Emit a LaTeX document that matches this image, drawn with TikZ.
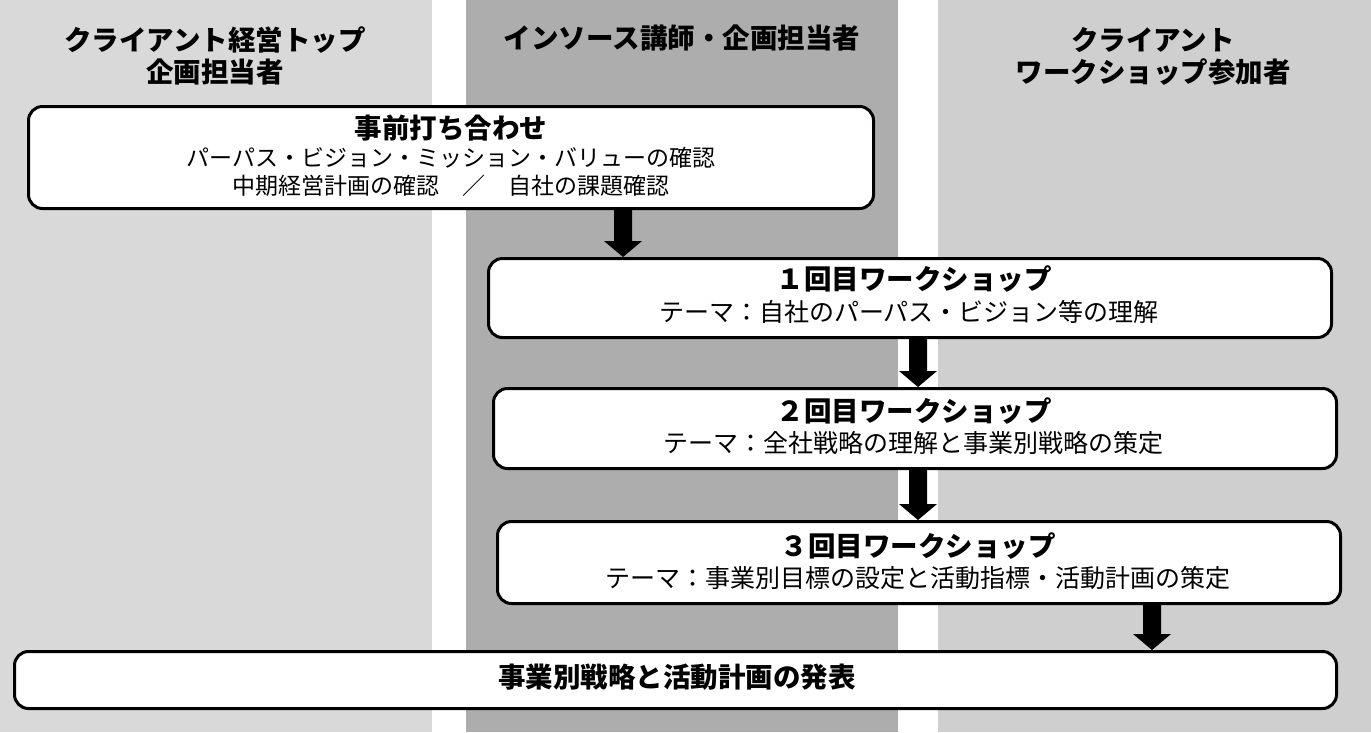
\documentclass[tikz,border=0pt]{standalone}
\usepackage{fontspec}
\newfontfamily\jp{Noto Sans CJK JP}
\usetikzlibrary{calc}
\definecolor{colL}{HTML}{D9D9D9}
\definecolor{colM}{HTML}{ADADAD}
\definecolor{colR}{HTML}{CFCFCF}
\tikzset{
  box/.style={draw=black, line width=3pt, fill=white, rounded corners=14pt, inner sep=0pt},
  hdr/.style={font=\jp\bfseries\fontsize{27.5}{33}\selectfont, align=center, inner sep=0pt},
  ttl/.style={font=\jp\bfseries\fontsize{27.5}{33}\selectfont, inner sep=0pt},
  subA/.style={font=\jp\fontsize{23}{28}\selectfont, inner sep=0pt},
  subB/.style={font=\jp\fontsize{25}{30}\selectfont, inner sep=0pt},
}
\newcommand{\blockarrow}[3]{%
  \fill[black] let \p1=(#2.south), \p2=(#3.north) in
    ({#1pt-9pt},\y1) -- ({#1pt+9pt},\y1) -- ({#1pt+9pt},\y2+16pt) -- ({#1pt+19pt},\y2+16pt)
    -- ({#1pt},\y2) -- ({#1pt-19pt},\y2+16pt) -- ({#1pt-9pt},\y2+16pt) -- cycle;}
\begin{document}
\begin{tikzpicture}[x=1pt,y=-1pt]
\useasboundingbox (0,0) rectangle (1371,732);
\fill[white] (0,0) rectangle (1371,732);
\fill[colL] (0,0) rectangle (432,732);
\fill[colM] (466,0) rectangle (898,732);
\fill[colR] (938,0) rectangle (1371,732);
% headers
\node[hdr] (hL1) at (215,40) {クライアント経営トップ};
\node[hdr] (hL2) at (215,72) {企画担当者};
\node[hdr] (hM) at (682,38) {インソース講師・企画担当者};
\node[hdr] (hR1) at (1153,40) {クライアント};
\node[hdr] (hR2) at (1153,72) {ワークショップ参加者};
% boxes
\node[box, minimum width=845pt, minimum height=102pt] (b1) at (451,157.5) {};
\node[box, minimum width=843pt, minimum height=79pt] (b2) at (910,298) {};
\node[box, minimum width=843pt, minimum height=80pt] (b3) at (915,428.5) {};
\node[box, minimum width=843pt, minimum height=82pt] (b4) at (919,562.5) {};
\node[box, minimum width=1322pt, minimum height=57pt] (b5) at (675.5,680) {};
% texts
\node[ttl] (t1) at (451,128) {事前打ち合わせ};
\node[subA] (s1a) at (451,158) {パーパス・ビジョン・ミッション・バリューの確認};
\node[subA] (s1b) at (451,186) {中期経営計画の確認　／　自社の課題確認};
\node[ttl] (t2) at (914,279) {１回目ワークショップ};
\node[subB] (s2) at (909,312) {テーマ：自社のパーパス・ビジョン等の理解};
\node[ttl] (t3) at (914,411) {２回目ワークショップ};
\node[subB] (s3) at (913,443) {テーマ：全社戦略の理解と事業別戦略の策定};
\node[ttl] (t4) at (918,546) {３回目ワークショップ};
\node[subB] (s4) at (918,578) {テーマ：事業別目標の設定と活動指標・活動計画の策定};
\node[ttl] (t5) at (677,677) {事業別戦略と活動計画の発表};
% arrows
\blockarrow{623}{b1}{b2}
\blockarrow{918}{b2}{b3}
\blockarrow{918}{b3}{b4}
\blockarrow{1152}{b4}{b5}
\end{tikzpicture}
\end{document}
